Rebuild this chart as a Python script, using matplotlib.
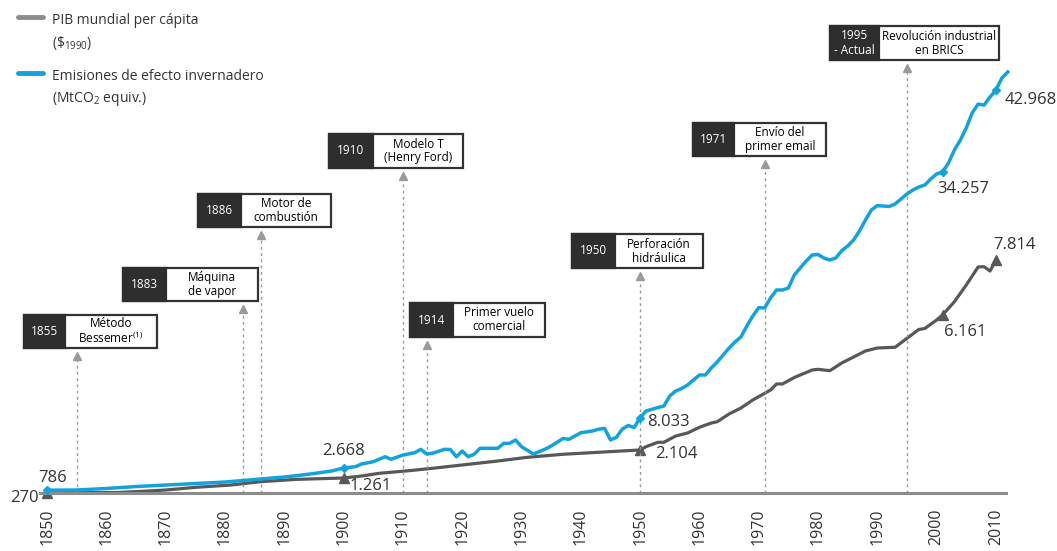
import matplotlib
matplotlib.use("Agg")
import matplotlib.pyplot as plt
import matplotlib.transforms as mtransforms
from matplotlib.patches import Rectangle

plt.rcParams['font.family'] = ['Open Sans', 'DejaVu Sans']
plt.rcParams['mathtext.default'] = 'regular'

# ---- data ----
blue_years = [1850, 1855, 1860, 1865, 1870, 1875, 1880, 1885, 1888, 1890, 1893, 1895, 1898,
              1900, 1902, 1903, 1905, 1907, 1908, 1910, 1912, 1913, 1914, 1915, 1917, 1918,
              1919, 1920, 1921, 1922, 1923, 1926, 1927, 1928, 1929, 1930, 1932, 1934, 1935,
              1937, 1938, 1940, 1942, 1943, 1944, 1945, 1946, 1947, 1948, 1949, 1950, 1951,
              1952, 1953, 1954, 1955, 1956, 1957, 1958, 1959, 1960, 1961, 1962, 1963, 1964,
              1965, 1966, 1967, 1968, 1969, 1970, 1971, 1972, 1973, 1974, 1975, 1976, 1977,
              1978, 1979, 1980, 1981, 1982, 1983, 1984, 1985, 1986, 1987, 1988, 1989, 1990,
              1991, 1992, 1993, 1994, 1995, 1996, 1997, 1998, 1999, 2000, 2001, 2002, 2003,
              2004, 2005, 2006, 2007, 2008, 2009, 2010, 2011, 2012]
emisiones = [300, 320, 480, 690, 850, 1010, 1170, 1440, 1600, 1710, 1920, 2080, 2350,
             2668, 2810, 3090, 3340, 3870, 3600, 4050, 4300, 4660, 4160, 4240, 4660, 4640,
             3870, 4480, 3870, 4130, 4770, 4770, 5300, 5300, 5660, 4940, 4160, 4690, 5010,
             5820, 5730, 6430, 6620, 6800, 6900, 5660, 5940, 6830, 7200, 6990, 8033, 8750,
             8930, 9120, 9280, 10350, 10880, 11150, 11520, 12060, 12590, 12590, 13340, 13980, 14720,
             15470, 16110, 16650, 17820, 18890, 19770, 19740, 20810, 21660, 21660, 21870, 23260, 24010,
             24750, 25390, 25450, 25070, 24860, 25070, 25850, 26350, 27000, 27960, 29130, 30200, 30660,
             30620, 30570, 30840, 31370, 31900, 32330, 32650, 32860, 33500, 34040, 34257, 35210, 36600,
             37660, 38950, 40550, 41500, 41390, 42250, 42968, 44280, 44920]

gray_years = [1850, 1855, 1860, 1862, 1866, 1870, 1875, 1881, 1886, 1892, 1900, 1903, 1906,
              1911, 1915, 1920, 1926, 1931, 1937, 1943, 1950, 1951, 1953, 1954, 1956, 1958,
              1960, 1962, 1963, 1965, 1967, 1969, 1972, 1973, 1974, 1976, 1979, 1980, 1982,
              1984, 1986, 1988, 1990, 1993, 1995, 1997, 1998, 2000, 2001, 2003, 2005, 2007,
              2008, 2009, 2010]
pib = [820, 820, 822, 825, 860, 900, 980, 1050, 1150, 1220, 1261, 1320, 1402,
       1480, 1553, 1652, 1772, 1883, 1974, 2034, 2104, 2202, 2334, 2334, 2523, 2614,
       2785, 2914, 2953, 3185, 3365, 3606, 3906, 4087, 4087, 4282, 4507, 4528, 4487,
       4718, 4898, 5079, 5169, 5190, 5461, 5725, 5755, 6010, 6161, 6561, 7063, 7604,
       7613, 7483, 7814]

blue_mark_years = [1850, 1900, 1950, 2001, 2010]
blue_mark_labels = ['786', '2.668', '8.033', '34.257', '42.968']
gray_mark_years = [1850, 1900, 1950, 2001, 2010]
gray_mark_labels = ['270', '1.261', '2.104', '6.161', '7.814']

event_years = [1855, 1883, 1886, 1910, 1914, 1950, 1971, 1995]
event_tags = ['1855', '1883', '1886', '1910', '1914', '1950', '1971', '1995\n- Actual']
event_texts = ['Método\nBessemer$^{(1)}$', 'Máquina\nde vapor', 'Motor de\ncombustión',
               'Modelo T\n(Henry Ford)', 'Primer vuelo\ncomercial', 'Perforación\nhidráulica',
               'Envío del\nprimer email', 'Revolución industrial\nen BRICS']

# ---- layout (pixels) ----
W, H = 1057, 551
ax_left, ax_right, ax_bottom, ax_top = 40, 1006, 493, 60
# box: left, top, width, height, dark width
boxes = [(24, 315, 133, 33, 41), (123, 268, 135, 33, 43), (198, 194, 133, 33, 43),
         (329, 134, 134, 34, 44), (410, 303, 135, 34, 43), (572, 234, 131, 34, 43),
         (693, 123, 133, 33, 41), (830, 26, 169, 34, 49)]
# label offsets in points
blue_off = [(4, 9, 'center'), (0, 12, 'center'), (5, -3, 'left'), (-4, -12, 'left'), (6, -7, 'left')]
gray_off = [(-6, -4, 'right'), (4, -6, 'left'), (11, -3, 'left'), (1, -12, 'left'), (-2, 11, 'left')]

BLUE = '#12a3dd'
GRAY = '#585858'
TXT = '#333333'

fig = plt.figure(figsize=(W / 100, H / 100), dpi=100)
ax = fig.add_axes([ax_left / W, 1 - ax_bottom / H, (ax_right - ax_left) / W, (ax_bottom - ax_top) / H])
ax2 = ax.twinx()
ax.patch.set_alpha(0)

ax.set_xlim(1848.8, 2011.7)
ax.set_ylim(0, 46200)
ax2.set_ylim(810, 13826)

for a in (ax, ax2):
    for s in ['top', 'right', 'left', 'bottom']:
        a.spines[s].set_visible(False)
    a.set_yticks([])
ax.spines['bottom'].set_visible(True)
ax.spines['bottom'].set_color('#8c8c8c')
ax.spines['bottom'].set_linewidth(2.2)
ax.spines['bottom'].set_zorder(0)

ax.set_xticks(range(1850, 2011, 10))
ax.tick_params(axis='x', length=0, pad=11, labelsize=11.5, labelcolor=TXT, labelrotation=90)

ax2.plot(gray_years, pib, color=GRAY, lw=2.3, zorder=3, clip_on=False, solid_joinstyle='round')
ax.plot(blue_years, emisiones, color=BLUE, lw=2.5, zorder=4, clip_on=False, solid_joinstyle='round')
ax.set_zorder(ax2.get_zorder() + 1)

for yr, lab, (dx, dy, ha) in zip(blue_mark_years, blue_mark_labels, blue_off):
    v = emisiones[blue_years.index(yr)]
    ax.plot(yr, v, marker='D', ms=4.5, color=BLUE, clip_on=False, zorder=5)
    ax.annotate(lab, (yr, v), xytext=(dx, dy), textcoords='offset points', ha=ha, va='center',
                fontsize=12, color=TXT)
for yr, lab, (dx, dy, ha) in zip(gray_mark_years, gray_mark_labels, gray_off):
    v = pib[gray_years.index(yr)]
    ax2.plot(yr, v, marker='^', ms=7, color=GRAY, clip_on=False, zorder=5)
    ax2.annotate(lab, (yr, v), xytext=(dx, dy), textcoords='offset points', ha=ha, va='center',
                 fontsize=12, color=TXT)

# overlay in pixel coordinates for boxes and legend
ov = fig.add_axes([0, 0, 1, 1])
ov.set_xlim(0, W)
ov.set_ylim(H, 0)
ov.axis('off')
ov.patch.set_alpha(0)
trans = mtransforms.blended_transform_factory(ax.transData, ov.transData)

for yr, tag, txt, (bx, by, bw, bh, dw) in zip(event_years, event_tags, event_texts, boxes):
    bot = by + bh
    ov.plot([yr, yr], [ax_bottom, bot + 10], transform=trans, color='#9a9a9a', lw=1,
            ls=(0, (2, 2.5)), zorder=1)
    ov.plot(yr, bot + 8, transform=trans, marker='^', ms=6, color='#9a9a9a', zorder=2)
    ov.add_patch(Rectangle((bx, by), bw, bh, facecolor='white', edgecolor='#333333', lw=1.6, zorder=3))
    ov.add_patch(Rectangle((bx, by), dw, bh, facecolor='#2e2e2e', edgecolor='#2e2e2e', lw=1.6, zorder=4))
    ov.text(bx + dw / 2, by + bh / 2, tag, ha='center', va='center', color='white', fontsize=8.5,
            zorder=5, linespacing=1.15)
    ov.text(bx + dw + (bw - dw) / 2, by + bh / 2, txt, ha='center', va='center', color='black',
            fontsize=8.5, zorder=5, linespacing=1.1)

# legend
ov.plot([18, 43], [17, 17], color='#8c8c8c', lw=3.5, solid_capstyle='round')
ov.text(52, 20, 'PIB mundial per cápita', ha='left', va='center', fontsize=10, color=TXT)
ov.text(52, 43, r'(\$$_{1990}$)', ha='left', va='center', fontsize=10, color=TXT)
ov.plot([18, 43], [73, 73], color=BLUE, lw=3.5, solid_capstyle='round')
ov.text(52, 77, 'Emisiones de efecto invernadero', ha='left', va='center', fontsize=10, color=TXT)
ov.text(52, 99, '(MtCO$_2$ equiv.)', ha='left', va='center', fontsize=10, color=TXT)

fig.savefig('out.png', dpi=100)
